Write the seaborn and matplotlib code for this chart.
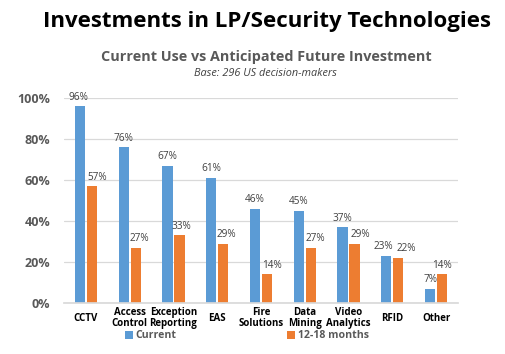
import matplotlib
matplotlib.use("Agg")
import matplotlib.pyplot as plt
import seaborn as sns
import pandas as pd
from matplotlib.ticker import FuncFormatter
from matplotlib.patches import Patch

categories = ["CCTV", "Access\nControl", "Exception\nReporting", "EAS", "Fire\nSolutions",
              "Data\nMining", "Video\nAnalytics", "RFID", "Other"]
current = [96, 76, 67, 61, 46, 45, 37, 23, 7]
future = [57, 27, 33, 29, 14, 27, 29, 22, 14]
series = ["Current", "12-18 months"]

# horizontal nudges (pixels) of the value labels, as in the reference
label_nudge = {
    "Current": [-1, 0, 0, 0, 0, 0, 0, -3, 0],
    "12-18 months": [5, 4, 2, 3, 5, 5, 6, 8, 0],
}

df = pd.DataFrame({
    "category": categories * 2,
    "value": [v / 100 for v in current] + [v / 100 for v in future],
    "series": [series[0]] * len(categories) + [series[1]] * len(categories),
})

sns.set_theme(style="white")
plt.rcParams["font.family"] = ["Open Sans", "DejaVu Sans"]

colors = {"Current": "#5B9BD5", "12-18 months": "#ED7D31"}

fig = plt.figure(figsize=(5.06, 3.54), dpi=100)
ax = fig.add_axes([64 / 506, 1 - 303 / 354, 394 / 506, 205 / 354])

sns.barplot(data=df, x="category", y="value", hue="series", palette=colors,
            width=0.55, gap=0.15, ax=ax, legend=False, saturation=1, linewidth=0)

ax.set_ylim(0, 1)
ax.set_xlim(-0.5, len(categories) - 0.5)
ax.set_yticks([0, 0.2, 0.4, 0.6, 0.8, 1.0])
ax.yaxis.set_major_formatter(FuncFormatter(lambda v, p: f"{v * 100:.0f}%"))
ax.yaxis.grid(True, color="#D9D9D9", linewidth=0.9)
ax.set_axisbelow(True)
for s in ["top", "right", "left"]:
    ax.spines[s].set_visible(False)
ax.spines["bottom"].set_color("#D9D9D9")
ax.set_xlabel("")
ax.set_ylabel("")
ax.tick_params(axis="y", length=0, pad=10, labelsize=9, labelcolor="#595959")
ax.tick_params(axis="x", length=0, pad=11, labelsize=7, labelcolor="black")
for lab in ax.get_yticklabels():
    lab.set_fontweight("bold")
for lab in ax.get_xticklabels():
    lab.set_fontweight("bold")
    lab.set_verticalalignment("center")
    lab.set_linespacing(1.05)

for cont, s in zip(ax.containers, series):
    for bar, v, dx in zip(cont.patches, cont.datavalues, label_nudge[s]):
        ax.annotate(f"{v * 100:.0f}%",
                    xy=(bar.get_x() + bar.get_width() / 2, bar.get_height()),
                    xytext=(dx * 0.72, 2.5), textcoords="offset points",
                    ha="center", va="bottom", fontsize=7.2, color="#404040",
                    annotation_clip=False)

fig.text(267 / 506, 1 - 21 / 354, "Investments in LP/Security Technologies",
         ha="center", va="center", fontsize=16, fontweight="bold", color="black")
fig.text(266 / 506, 1 - 57 / 354, "Current Use vs Anticipated Future Investment",
         ha="center", va="center", fontsize=10.4, fontweight="bold", color="#595959")
fig.text(265.5 / 506, 1 - 73 / 354, "Base: 296 US decision-makers",
         ha="center", va="center", fontsize=7.8, style="italic", color="#404040")

handles = [Patch(facecolor=colors[s], edgecolor="none") for s in series]
fig.legend(handles, series, loc="center", bbox_to_anchor=(247 / 506, 1 - 336 / 354),
           ncol=2, frameon=False, handlelength=0.75, handleheight=0.75,
           handletextpad=0.25, columnspacing=10.5, labelcolor="#595959",
           prop={"weight": "bold", "size": 7.6})

fig.savefig("out.png", dpi=100)
